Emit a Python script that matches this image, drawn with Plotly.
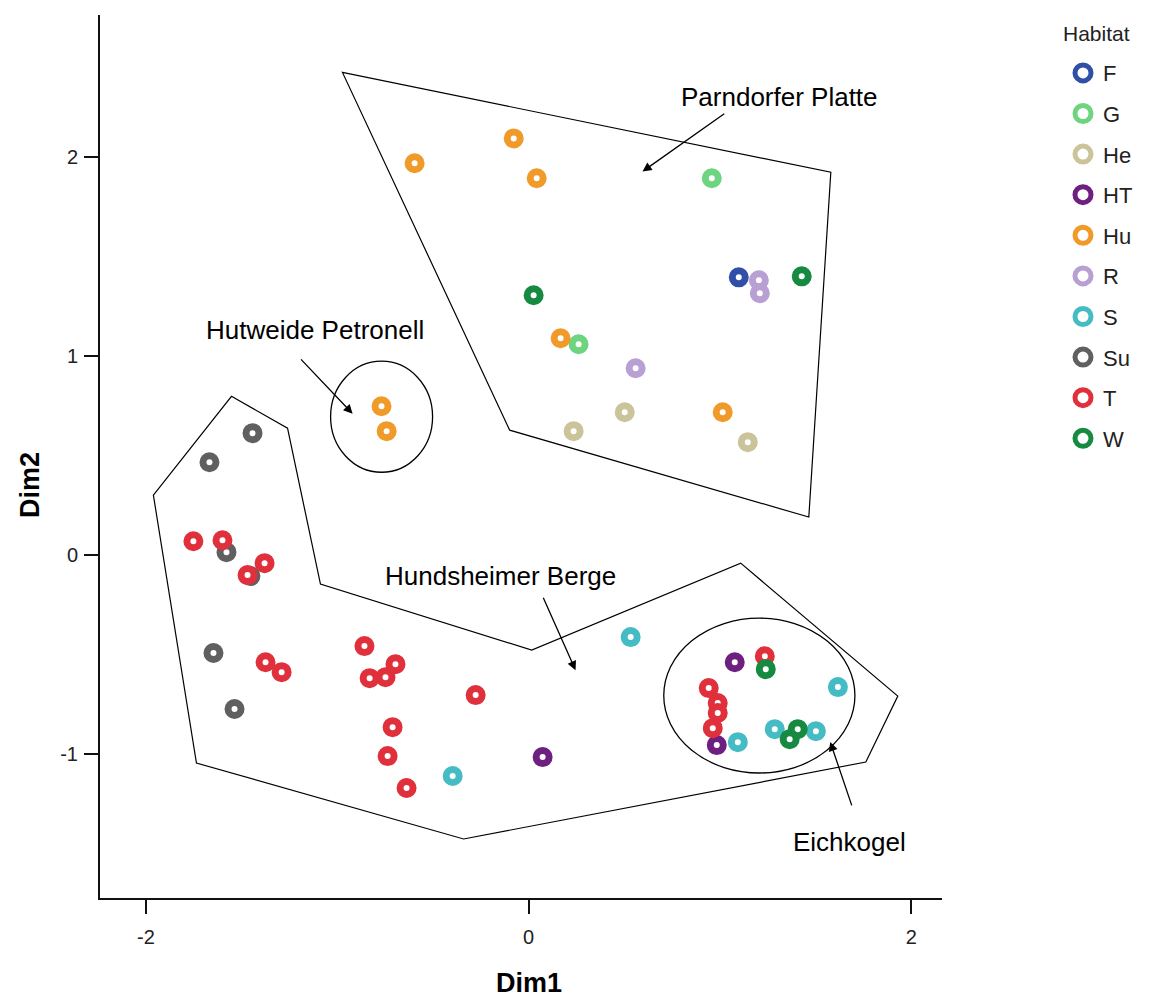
import plotly.graph_objects as go

# ---------------- data ----------------
habitats = ["F", "G", "He", "HT", "Hu", "R", "S", "Su", "T", "W"]
colors = ["#3050a8", "#6fd47f", "#cbc399", "#6e2080", "#f09a2a",
          "#b8a0d4", "#45bcc4", "#606060", "#e0303c", "#178a42"]

F_x = [1.098]
F_y = [1.394]
G_x = [0.957, 0.261]
G_y = [1.891, 1.058]
He_x = [0.502, 0.235, 1.145]
He_y = [0.717, 0.622, 0.567]
HT_x = [1.077, 0.983, 0.073]
HT_y = [-0.537, -0.953, -1.013]
Hu_x = [-0.596, -0.078, 0.042, 0.167, 1.014, -0.769, -0.742]
Hu_y = [1.966, 2.091, 1.891, 1.088, 0.717, 0.747, 0.622]
R_x = [1.203, 1.208, 0.559]
R_y = [1.379, 1.314, 0.938]
S_x = [0.533, 1.616, 1.286, 1.501, 1.093, -0.397]
S_y = [-0.411, -0.662, -0.873, -0.883, -0.938, -1.108]
Su_x = [-1.443, -1.668, -1.579, -1.454, -1.647, -1.537]
Su_y = [0.612, 0.466, 0.015, -0.105, -0.491, -0.772]
T_x = [-1.752, -1.600, -1.380, -1.469, -1.375, -1.291, -0.858, -0.831,
       -0.748, -0.696, -0.277, -0.711, -0.737, -0.638,
       0.941, 0.988, 0.988, 0.962, 1.234]
T_y = [0.070, 0.075, -0.040, -0.100, -0.537, -0.587, -0.456, -0.617,
       -0.612, -0.547, -0.702, -0.863, -1.008, -1.168,
       -0.667, -0.742, -0.792, -0.868, -0.507]
W_x = [0.026, 1.427, 1.239, 1.406, 1.364]
W_y = [1.304, 1.399, -0.572, -0.873, -0.923]

xs = [F_x, G_x, He_x, HT_x, Hu_x, R_x, S_x, Su_x, T_x, W_x]
ys = [F_y, G_y, He_y, HT_y, Hu_y, R_y, S_y, Su_y, T_y, W_y]

x_ticks = [-2, 0, 2]
x_ticklabels = ["-2", "0", "2"]
y_ticks = [-1, 0, 1, 2]
y_ticklabels = ["-1", "0", "1", "2"]

# region outlines (data coordinates)
parndorf_x = [-0.973, 1.579, 1.464, -0.099]
parndorf_y = [2.422, 1.921, 0.191, 0.627]
hundsheim_x = [-1.553, -1.260, -1.088, 0.016, 1.108, 1.929, 1.762, -0.340, -1.736, -1.961]
hundsheim_y = [0.797, 0.637, -0.145, -0.476, -0.040, -0.707, -1.038, -1.424, -1.043, 0.301]
hutweide_ellipse = (-1.035, 0.416, -0.502, 0.973)   # x0, y0, x1, y1
eichkogel_ellipse = (0.706, -1.093, 1.705, -0.316)

# labels: text, text position, arrow tail, arrow head
labels = [
    ("Parndorfer Platte", (1.312, 2.297), (1.03, 2.22), (0.595, 1.925)),
    ("Hutweide Petronell", (-1.119, 1.128), (-1.197, 0.99), (-0.92, 0.71)),
    ("Hundsheimer Berge", (-0.146, -0.105), (0.073, -0.206), (0.245, -0.577)),
    ("Eichkogel", (1.678, -1.439), (1.691, -1.263), (1.576, -0.937)),
]

FONT = "Liberation Sans, Arial, sans-serif"

# ---------------- figure ----------------
fig = go.Figure()

for h, c, x, y in zip(habitats, colors, xs, ys):
    fig.add_trace(go.Scatter(
        x=x, y=y, mode="markers", name=h, legendgroup=h, showlegend=False,
        marker=dict(symbol="circle", size=13, color="white",
                    line=dict(color=c, width=7)),
    ))
# legend entries (bigger rings, as in the original key)
for h, c in zip(habitats, colors):
    fig.add_trace(go.Scatter(
        x=[None], y=[None], mode="markers", name=h, legendgroup=h, showlegend=True,
        marker=dict(symbol="circle", size=16, color="white",
                    line=dict(color=c, width=5)),
    ))

def poly_path(px, py):
    return "M " + " L ".join(f"{a},{b}" for a, b in zip(px, py)) + " Z"

shapes = [
    dict(type="path", path=poly_path(parndorf_x, parndorf_y), xref="x", yref="y",
         line=dict(color="black", width=1.2), layer="below"),
    dict(type="path", path=poly_path(hundsheim_x, hundsheim_y), xref="x", yref="y",
         line=dict(color="black", width=1.2), layer="below"),
]
for e in (hutweide_ellipse, eichkogel_ellipse):
    shapes.append(dict(type="circle", xref="x", yref="y", x0=e[0], y0=e[1], x1=e[2], y1=e[3],
                       line=dict(color="black", width=1.3), layer="below"))

annotations = []
for text, tpos, tail, head in labels:
    annotations.append(dict(x=tpos[0], y=tpos[1], xref="x", yref="y", text=text,
                            showarrow=False, font=dict(size=26, color="black", family=FONT)))
    annotations.append(dict(x=head[0], y=head[1], ax=tail[0], ay=tail[1],
                            xref="x", yref="y", axref="x", ayref="y", text="",
                            showarrow=True, arrowhead=2, arrowsize=1.4, arrowwidth=1.3,
                            arrowcolor="black"))

# axis titles and legend title
annotations.append(dict(x=0, y=-0.0963, xref="x", yref="paper", text="<b>Dim1</b>",
                        xanchor="center", yanchor="middle",
                        showarrow=False, font=dict(size=27, color="black", family=FONT)))
annotations.append(dict(x=-0.0831, y=0.4677, xref="paper", yref="paper", text="<b>Dim2</b>",
                        xanchor="center", yanchor="middle",
                        textangle=-90, showarrow=False,
                        font=dict(size=27, color="black", family=FONT)))
annotations.append(dict(x=1.183, y=0.9796, xref="paper", yref="paper", text="Habitat",
                        xanchor="center", yanchor="middle",
                        showarrow=False, font=dict(size=21, color="#222", family=FONT)))

fig.update_layout(
    width=1151, height=993,
    margin=dict(l=92, r=217, t=7, b=103),
    plot_bgcolor="white", paper_bgcolor="white",
    font=dict(family=FONT, color="#222"),
    shapes=shapes, annotations=annotations,
    legend=dict(font=dict(size=22), x=1.1437, y=0.958, xanchor="left", yanchor="top",
                tracegroupgap=9, itemwidth=30),
    showlegend=True,
)
fig.update_xaxes(range=[-2.24, 2.16], showline=True, linecolor="#111", linewidth=2,
                 showgrid=False, zeroline=False, ticks="outside", ticklen=14, tickwidth=2,
                 tickcolor="#111", tickvals=x_ticks, ticktext=x_ticklabels,
                 tickfont=dict(size=20, color="#222"), ticklabelstandoff=6)
fig.update_yaxes(range=[-1.72, 2.71], showline=True, linecolor="#111", linewidth=2,
                 showgrid=False, zeroline=False, ticks="outside", ticklen=14, tickwidth=2,
                 tickcolor="#111", tickvals=y_ticks, ticktext=y_ticklabels,
                 tickfont=dict(size=20, color="#222"), ticklabelstandoff=2)

fig.write_html("out.html")
